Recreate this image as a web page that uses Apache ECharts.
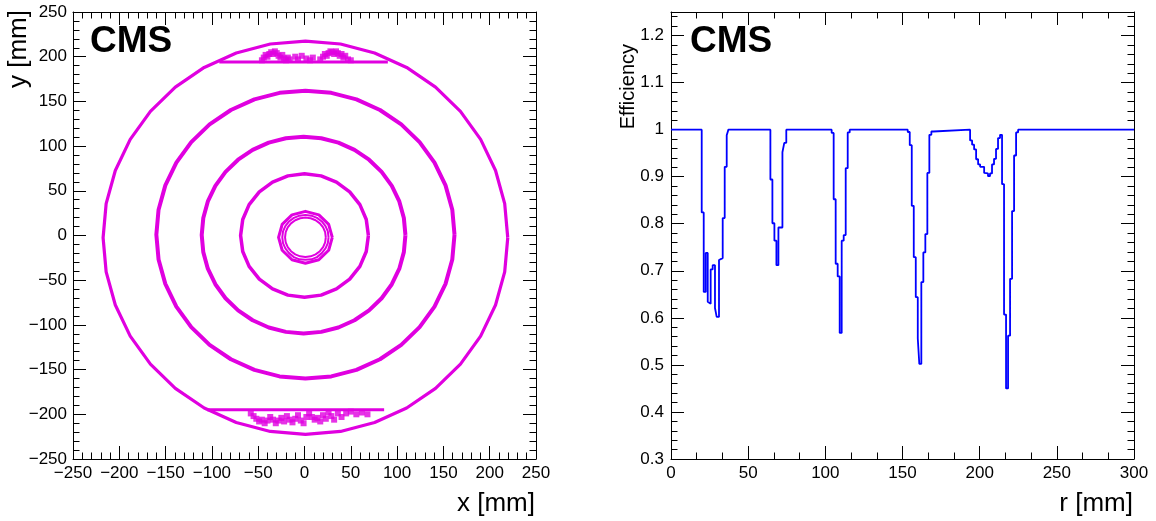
<!DOCTYPE html>
<html>
<head>
<meta charset="utf-8">
<script src="https://cdn.jsdelivr.net/npm/echarts@6/dist/echarts.min.js"></script>
<style>
html,body{margin:0;padding:0;background:#fff;}
#c{width:1156px;height:521px;}
</style>
</head>
<body>
<div id="c"></div>
<script>
// ---------- Left panel: hit map (x, y in mm) ----------
const ringOuter = [[219.5,-2.5],[216.2,35.7],[206.3,72.7],[190.2,107.5],[168.4,138.9],[141.5,166],[110.3,188],[75.7,204.2],[38.9,214.2],[1,217.5],
  [-36.9,214.2],[-73.7,204.2],[-108.3,188],[-139.5,166],[-166.4,138.9],[-188.2,107.5],[-204.3,72.7],[-214.2,35.7],[-217.5,-2.5],
  [-214.2,-40.7],[-204.3,-77.7],[-188.2,-112.5],[-166.4,-143.9],[-139.5,-171],[-108.3,-193],[-73.7,-209.2],[-36.9,-219.2],[1,-222.5],
  [38.9,-219.2],[75.7,-209.2],[110.3,-193],[141.5,-171],[168.4,-143.9],[190.2,-112.5],[206.3,-77.7],[216.2,-40.7]];
const ring4 = [[162,1],[159.6,28.9],[152.3,56.1],[140.4,81.5],[124.3,104.5],[104.5,124.3],[81.5,140.4],[56.1,152.3],[28.9,159.6],[1,162],
  [-26.9,159.6],[-54.1,152.3],[-79.5,140.4],[-102.5,124.3],[-122.3,104.5],[-138.4,81.5],[-150.3,56.1],[-157.6,28.9],[-160,1],
  [-157.6,-26.9],[-150.3,-54.1],[-138.4,-79.5],[-122.3,-102.5],[-102.5,-122.3],[-79.5,-138.4],[-54.1,-150.3],[-26.9,-157.6],[1,-160],
  [28.9,-157.6],[56.1,-150.3],[81.5,-138.4],[104.5,-122.3],[124.3,-102.5],[140.4,-79.5],[152.3,-54.1],[159.6,-26.9]];
const ring3 = [[109,0.5],[107.3,19.6],[102.4,38.1],[94.3,55.5],[83.3,71.2],[69.7,84.8],[54,95.8],[36.6,103.9],[18.1,108.8],[-1,110.5],
  [-20.1,108.8],[-38.6,103.9],[-56,95.8],[-71.7,84.8],[-85.3,71.2],[-96.3,55.5],[-104.4,38.1],[-109.3,19.6],[-111,0.5],
  [-109.3,-18.6],[-104.4,-37.1],[-96.3,-54.5],[-85.3,-70.2],[-71.7,-83.8],[-56,-94.8],[-38.6,-102.9],[-20.1,-107.8],[-1,-109.5],
  [18.1,-107.8],[36.6,-102.9],[54,-94.8],[69.7,-83.8],[83.3,-70.2],[94.3,-54.5],[102.4,-37.1],[107.3,-18.6]];
const ring2 = [[69,0],[66.7,17.9],[59.8,34.5],[48.8,48.8],[34.5,59.8],[17.9,66.7],[0,69],[-17.9,66.7],[-34.5,59.8],[-48.8,48.8],[-59.8,34.5],[-66.7,17.9],[-69,0],[-66.7,-17.9],[-59.8,-34.5],[-48.8,-48.8],[-34.5,-59.8],[-17.9,-66.7],[0,-69],[17.9,-66.7],[34.5,-59.8],[48.8,-48.8],[59.8,-34.5],[66.7,-17.9]];
const ring1a = [[23,-2],[22.3,3.7],[20.1,9],[16.6,13.6],[12,17.1],[6.7,19.3],[1,20],[-4.7,19.3],[-10,17.1],[-14.6,13.6],[-18.1,9],[-20.3,3.7],[-21,-2],[-20.3,-7.7],[-18.1,-13],[-14.6,-17.6],[-10,-21.1],[-4.7,-23.3],[1,-24],[6.7,-23.3],[12,-21.1],[16.6,-17.6],[20.1,-13],[22.3,-7.7]];
const ring1b = [[26,-2],[25.2,4.5],[22.7,10.5],[18.7,15.7],[13.5,19.7],[7.5,22.2],[1,23],[-5.5,22.2],[-11.5,19.7],[-16.7,15.7],[-20.7,10.5],[-23.2,4.5],[-24,-2],[-23.2,-8.5],[-20.7,-14.5],[-16.7,-19.7],[-11.5,-24.2],[-5.5,-26.7],[1,-27],[7.5,-26.7],[13.5,-24.2],[18.7,-19.7],[22.7,-14.5],[25.2,-8.5]];
const ring1Ladders = [[30,-2],[26.1,12.5],[15.5,23.1],[1,27],[-13.5,23.1],[-24.1,12.5],[-28,-2],[-24.1,-16.5],[-13.5,-27.1],[1,-31],[15.5,-27.1],[26.1,-16.5]];
const chordTop = [[-92,194],[90,194]];
const chordBottom = [[-105,-195],[86,-195]];
const blobsTop = [[-46,196],[-44,199],[-42,202],[-40,200],[-38,203],[-36,205],[-34,203],[-32,206],[-30,204],[-28,201],[-26,199],[-24,202],[-22,198],[-20,196],[-18,199],[-16,197],
  [-10,200],[-7,197],[-3,201],[2,198],[6,196],[9,199],
  [17,197],[20,200],[22,203],[24,201],[26,204],[28,206],[30,205],[32,203],[34,206],[36,204],[38,201],[40,203],[42,199],[44,201],[47,197],[50,196]];
const blobsBottom = [[-58,-199],[-55,-202],[-52,-205],[-49,-208],[-46,-206],[-43,-210],[-40,-207],[-37,-203],[-34,-206],[-31,-210],[-28,-207],[-25,-204],[-22,-208],[-19,-202],[-16,-206],[-13,-209],[-10,-205],[-7,-201],[-4,-207],[-1,-210],
  [2,-203],[5,-199],[8,-203],[11,-206],[14,-204],[17,-208],[20,-201],[23,-205],[26,-198],[29,-202],[32,-206],[36,-199],[40,-203],[45,-199],[50,-197],[56,-200],[62,-198],[68,-200]];

// ---------- Right panel: efficiency vs r (bin low edges and values) ----------
const effR = [0,19.9,21.2,22.5,23.8,24.4,25.7,27.0,28.5,29.6,31.1,32.2,33.5,34.8,36.1,37.2,
  64.4,65.7,67.0,68.3,69.6,72.2,73.4,74.7,
  104.1,105.4,106.7,108.0,109.3,110.6,111.9,113.2,114.5,115.8,
  153.4,154.7,156.0,157.3,158.6,159.9,160.9,162.2,163.5,164.8,166.1,167.4,168.7,170.0,
  193.8,195.1,196.4,197.7,199.0,200.3,202.9,204.1,205.4,206.7,208.0,209.3,210.6,211.9,213.2,214.5,215.8,217.1,218.4,219.7,221.0,222.3,223.6,224.9,300];
const effV = [1,0.824,0.655,0.738,0.634,0.630,0.703,0.712,0.621,0.602,0.723,0.727,0.812,0.921,0.988,1,
  0.894,0.801,0.764,0.712,0.792,0.952,0.972,1,
  0.993,0.852,0.715,0.688,0.568,0.764,0.776,0.918,0.994,1,
  0.995,0.967,0.838,0.729,0.644,0.556,0.502,0.676,0.739,0.778,0.908,0.989,0.996,1,
  0.977,0.968,0.958,0.937,0.926,0.921,0.908,0.907,0.901,0.907,0.926,0.938,0.959,0.982,0.989,0.884,0.607,0.450,0.562,0.683,0.827,0.945,0.994,1,1];

const xTicksLeft = [-250,250,50];
const yTicksLeft = [-250,250,50];
const xTicksRight = [0,300,50];
const yTicksRight = [0.3,1.25,0.1];

const FONT = "'Liberation Sans', Arial, Helvetica, sans-serif";
const MAG = '#e000e0';
const minus = v => String(v).replace('-', '\u2212');
const effFmt = v => String(+(+v).toFixed(2));

function axisCommon(showLabel, fmt, minorSplit, margin, hideMax) {
  return {
    axisLine: {show: true, onZero: false, lineStyle: {color: '#000', width: 1}},
    axisTick: {show: true, inside: true, length: 13, lineStyle: {color: '#000', width: 1}},
    minorTick: {show: true, splitNumber: minorSplit, length: 6.5, lineStyle: {color: '#000', width: 1}},
    splitLine: {show: false},
    minorSplitLine: {show: false},
    axisLabel: {show: showLabel, formatter: fmt, color: '#000', fontFamily: FONT, fontSize: 17, margin: margin,
      showMaxLabel: !hideMax, showMinLabel: true}
  };
}

const closed = a => a.concat([a[0]]);
const ringSeries = (data, w) => ({
  type: 'line', xAxisIndex: 0, yAxisIndex: 0, data: data, showSymbol: false, symbol: 'none',
  lineStyle: {color: MAG, width: w, join: 'round'}, animation: false, silent: true
});

const option = {
  animation: false,
  backgroundColor: '#fff',
  grid: [
    {left: 73, top: 12, width: 463, height: 447},
    {left: 671, top: 12, width: 463, height: 447}
  ],
  xAxis: [
    Object.assign({type: 'value', gridIndex: 0, position: 'bottom', min: xTicksLeft[0], max: xTicksLeft[1], interval: xTicksLeft[2]}, axisCommon(true, minus, 5, 6)),
    Object.assign({type: 'value', gridIndex: 0, position: 'top', min: xTicksLeft[0], max: xTicksLeft[1], interval: xTicksLeft[2]}, axisCommon(false, minus, 5, 6)),
    Object.assign({type: 'value', gridIndex: 1, position: 'bottom', min: xTicksRight[0], max: xTicksRight[1], interval: xTicksRight[2]}, axisCommon(true, minus, 3, 6)),
    Object.assign({type: 'value', gridIndex: 1, position: 'top', min: xTicksRight[0], max: xTicksRight[1], interval: xTicksRight[2]}, axisCommon(false, minus, 3, 6))
  ],
  yAxis: [
    Object.assign({type: 'value', gridIndex: 0, position: 'left', min: yTicksLeft[0], max: yTicksLeft[1], interval: yTicksLeft[2]}, axisCommon(true, minus, 5, 6)),
    Object.assign({type: 'value', gridIndex: 0, position: 'right', min: yTicksLeft[0], max: yTicksLeft[1], interval: yTicksLeft[2]}, axisCommon(false, minus, 5, 6)),
    Object.assign({type: 'value', gridIndex: 1, position: 'left', min: yTicksRight[0], max: yTicksRight[1], interval: yTicksRight[2]}, axisCommon(true, effFmt, 5, 7, true)),
    Object.assign({type: 'value', gridIndex: 1, position: 'right', min: yTicksRight[0], max: yTicksRight[1], interval: yTicksRight[2]}, axisCommon(false, effFmt, 5, 7, true))
  ],
  series: [
    ringSeries(closed(ringOuter), 3.2),
    ringSeries(closed(ring4), 4),
    ringSeries(closed(ring3), 4),
    ringSeries(closed(ring2), 3.5),
    ringSeries(closed(ring1a), 2),
    ringSeries(closed(ring1b), 2),
    ringSeries(closed(ring1Ladders), 3),
    ringSeries(chordTop, 3),
    ringSeries(chordBottom, 3),
    {type: 'scatter', xAxisIndex: 0, yAxisIndex: 0, data: blobsTop.concat(blobsBottom), symbol: 'rect', symbolSize: 6,
     itemStyle: {color: MAG}, animation: false, silent: true},
    {type: 'line', xAxisIndex: 2, yAxisIndex: 2, step: 'end', showSymbol: false, symbol: 'none',
     data: effR.map((r, i) => [r, effV[i]]), lineStyle: {color: '#0000ff', width: 1.8}, animation: false, silent: true}
  ],
  graphic: [
    {type: 'text', left: 90, top: 23, style: {text: 'CMS', font: 'bold 37px ' + FONT, fill: '#000'}},
    {type: 'text', left: 690, top: 23, style: {text: 'CMS', font: 'bold 37px ' + FONT, fill: '#000'}},
    {type: 'text', x: 535, y: 504, style: {text: 'x [mm]', font: '26px ' + FONT, fill: '#000', align: 'right', verticalAlign: 'middle'}},
    {type: 'text', x: 1133, y: 504, style: {text: 'r [mm]', font: '26px ' + FONT, fill: '#000', align: 'right', verticalAlign: 'middle'}},
    {type: 'text', x: 19, y: 10, rotation: Math.PI / 2, style: {text: 'y [mm]', font: '26px ' + FONT, fill: '#000', align: 'right', verticalAlign: 'middle'}},
    {type: 'text', x: 628, y: 44, rotation: Math.PI / 2, style: {text: 'Efficiency', font: '20px ' + FONT, fill: '#000', align: 'right', verticalAlign: 'middle'}}
  ]
};

const chart = echarts.init(document.getElementById('c'), null, {renderer: 'canvas'});
chart.setOption(option);
</script>
</body>
</html>
